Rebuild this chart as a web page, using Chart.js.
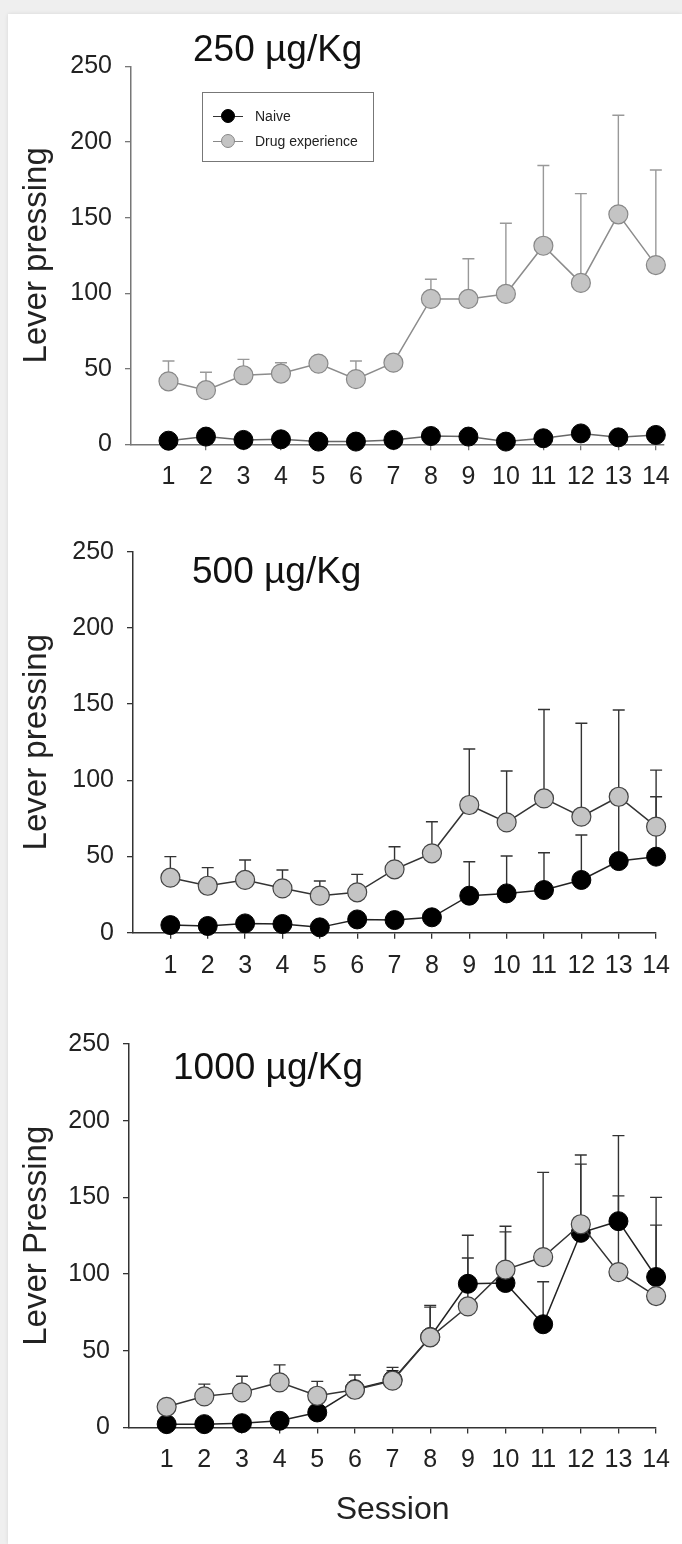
<!DOCTYPE html>
<html><head><meta charset="utf-8">
<script src="https://cdn.jsdelivr.net/npm/chart.js@4.4.1/dist/chart.umd.min.js"></script>
<style>
html,body{margin:0;padding:0;}
body{width:682px;height:1544px;background:#efefef;position:relative;overflow:hidden;font-family:"Liberation Sans",Arial,sans-serif;}
#card{position:absolute;left:8px;top:14px;right:0;bottom:0;background:#fff;box-shadow:0 0 4px rgba(0,0,0,0.10);}
canvas{position:absolute;left:0;}
.ptitle{position:absolute;font-size:37px;line-height:37px;color:#111;white-space:nowrap;z-index:2;}
#legend{position:absolute;left:202px;top:92px;width:172px;height:70px;border:1px solid #777;box-sizing:border-box;background:#fff;z-index:2;}
.lrow{position:absolute;left:0;width:170px;height:20px;}
.lline{position:absolute;left:10px;width:30px;top:9.5px;height:1px;}
.ldot{position:absolute;left:18px;top:3px;width:14px;height:14px;border-radius:50%;box-sizing:border-box;}
.ltxt{position:absolute;left:52px;top:1px;font-size:14px;line-height:18px;color:#222;}
</style></head>
<body>
<div id="card"></div>
<canvas id="c1" width="682" height="494" style="top:0px"></canvas>
<canvas id="c2" width="682" height="486" style="top:496px"></canvas>
<canvas id="c3" width="682" height="560" style="top:984px"></canvas>
<div class="ptitle" style="left:193px;top:30px">250 µg/Kg</div>
<div class="ptitle" style="left:192px;top:552px">500 µg/Kg</div>
<div class="ptitle" style="left:173px;top:1048px">1000 µg/Kg</div>
<div id="legend">
  <div class="lrow" style="top:13px"><div class="lline" style="background:#333"></div><div class="ldot" style="background:#000;border:1px solid #000"></div><div class="ltxt">Naive</div></div>
  <div class="lrow" style="top:38px"><div class="lline" style="background:#888"></div><div class="ldot" style="background:#c4c4c4;border:1px solid #888"></div><div class="ltxt">Drug experience</div></div>
</div>
<script>
// ---- data ----
const sessions = [1,2,3,4,5,6,7,8,9,10,11,12,13,14];
const yTicks = [0,50,100,150,200,250];
const seriesNames = ['Naive','Drug experience'];
const yTitles = ['Lever pressing','Lever pressing','Lever Pressing'];
const xTitle = 'Session';

const naive250    = [2.4,5.1,2.9,3.3,1.8,1.8,2.9,5.5,5.1,1.8,4.0,7.2,4.6,6.2];
const naive250Sem = [1.5,1.5,1.5,1.5,1.5,1.5,1.5,1.5,1.5,1.5,1.5,1.5,1.5,1.5];
const drug250     = [41.7,35.8,45.7,46.8,53.4,43.1,54.0,96.2,96.2,99.5,131.4,106.8,152.2,118.6];
const drug250Sem  = [13.4,11.9,10.5,7.2,4,12.0,4,13.0,26.6,46.8,53.1,59.1,65.5,62.9];

const naive500    = [5.0,4.4,6.1,5.7,3.5,8.7,8.3,10.1,24.3,25.8,28.0,34.6,47.0,49.9];
const naive500Sem = [2,2,2,2,2,3,3,3,22.3,24.5,24.5,29.5,41.0,39.3];
const drug500     = [36.1,30.8,34.6,29.1,24.3,26.5,41.6,52.1,83.8,72.4,88.1,76.1,89.2,69.6];
const drug500Sem  = [13.8,11.9,13.1,12.0,9.6,11.8,14.8,20.7,36.7,33.7,58.4,61.3,56.9,37.1];

const naive1000    = [2.2,2.2,2.8,4.4,9.8,25.0,31.0,59.0,93.7,94.2,67.3,126.9,134.5,98.1];
const naive1000Sem = [1,1,1,1.5,2,3,6,19.5,31.6,37.0,27.7,44.8,55.8,51.9];
const drug1000     = [13.5,20.3,22.9,29.4,20.7,24.6,30.5,58.8,78.9,102.9,111.1,132.5,101.3,85.7];
const drug1000Sem  = [3,8.0,10.5,11.4,9.4,9.6,8.7,20.8,31.6,24.6,55.2,45.1,49.7,46.2];

// ---- helpers ----
const FONT = '"Liberation Sans", Arial, sans-serif';
const errorBars = {
  id: 'errorBars',
  beforeDatasetsDraw(chart) {
    const {ctx, scales:{x, y}} = chart;
    chart.data.datasets.forEach(ds => {
      if (!ds.sem) return;
      ctx.save();
      ctx.strokeStyle = ds.errColor;
      ctx.lineWidth = 1.4;
      ds.data.forEach((p, i) => {
        const px = x.getPixelForValue(p.x);
        const py = y.getPixelForValue(p.y);
        const pt = y.getPixelForValue(p.y + ds.sem[i]);
        ctx.beginPath();
        ctx.moveTo(px, py); ctx.lineTo(px, pt);
        ctx.moveTo(px - 6, pt); ctx.lineTo(px + 6, pt);
        ctx.stroke();
      });
      ctx.restore();
    });
  }
};

function pts(vals) { return sessions.map((s, i) => ({x: s, y: vals[i]})); }

function makePanel(id, o) {
  new Chart(document.getElementById(id), {
    type: 'line',
    data: {
      datasets: [
        { label: seriesNames[0], data: pts(o.naive), sem: o.naiveSem, order: 1,
          borderColor: o.naiveLine, borderWidth: 1.5, errColor: o.naiveErr,
          pointRadius: 9.5, pointBackgroundColor: '#000', pointBorderColor: '#000', pointBorderWidth: 1,
          tension: 0, fill: false, clip: false },
        { label: seriesNames[1], data: pts(o.drug), sem: o.drugSem, order: 0,
          borderColor: o.drugLine, borderWidth: 1.5, errColor: o.drugErr,
          pointRadius: 9.5, pointBackgroundColor: '#c4c4c4', pointBorderColor: o.drugPtBorder, pointBorderWidth: 1.2,
          tension: 0, fill: false, clip: false }
      ]
    },
    options: {
      responsive: false, animation: false, devicePixelRatio: 1,
      layout: { padding: { top: o.padTop, right: o.padRight, left: 0, bottom: 0 } },
      plugins: { legend: { display: false }, tooltip: { enabled: false } },
      scales: {
        x: {
          type: 'linear', min: 0, max: o.xmax,
          afterBuildTicks: s => { s.ticks = sessions.map(v => ({value: v})); },
          afterFit: s => { s.height = o.xh; },
          grid: { drawOnChartArea: false, drawTicks: true, tickLength: 6, color: o.axis, lineWidth: 1.3 },
          border: { display: true, color: o.axis, width: 1.5 },
          ticks: { font: { size: 25, family: FONT }, color: '#222', padding: 12, maxRotation: 0, autoSkip: false },
          title: { display: !!o.xTitle, text: o.xTitle || '', color: '#222', font: { size: 32, family: FONT, lineHeight: 1.2 }, padding: { top: 0, bottom: 15 } }
        },
        y: {
          min: 0, max: 250,
          afterBuildTicks: s => { s.ticks = yTicks.map(v => ({value: v})); },
          afterFit: s => { s.width = o.left; },
          grid: { drawOnChartArea: false, drawTicks: true, tickLength: 6, color: o.axis, lineWidth: 1.3 },
          border: { display: true, color: o.axis, width: 1.5 },
          ticks: { font: { size: 25, family: FONT }, color: '#222', padding: 13 },
          title: { display: true, text: o.yTitle, color: '#222', font: { size: 33, family: FONT, lineHeight: 1.2 }, padding: { top: 17.2, bottom: 0 } }
        }
      }
    },
    plugins: [errorBars]
  });
}

makePanel('c1', { naive: naive250, naiveSem: naive250Sem, drug: drug250, drugSem: drug250Sem,
  naiveLine: '#666', naiveErr: '#777', drugLine: '#8c8c8c', drugErr: '#999', drugPtBorder: '#888', axis: '#777',
  padTop: 66.5, padRight: 18, left: 131, xh: 49.7, xmax: 14.2, yTitle: yTitles[0] });
makePanel('c2', { naive: naive500, naiveSem: naive500Sem, drug: drug500, drugSem: drug500Sem,
  naiveLine: '#222', naiveErr: '#333', drugLine: '#333', drugErr: '#333', drugPtBorder: '#444', axis: '#333',
  padTop: 55.7, padRight: 20, left: 133, xh: 49.3, xmax: 14, yTitle: yTitles[1] });
makePanel('c3', { naive: naive1000, naiveSem: naive1000Sem, drug: drug1000, drugSem: drug1000Sem,
  naiveLine: '#222', naiveErr: '#333', drugLine: '#333', drugErr: '#333', drugPtBorder: '#444', axis: '#333',
  padTop: 60, padRight: 18, left: 129, xh: 116.5, xmax: 14, yTitle: yTitles[2], xTitle: xTitle });
</script>
</body></html>
